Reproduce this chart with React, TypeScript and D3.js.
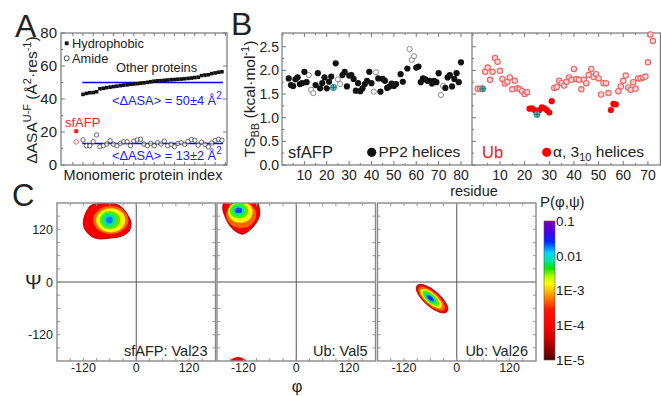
import React from 'react';
import * as d3 from 'd3';

const FONT = '"Liberation Sans", Arial, Helvetica, sans-serif';

// ---------------- Panel A data ----------------
const otherHydrophobic = [42.8, 43.4, 43.8, 43.9, 44.4, 46.2, 46.5, 46.9, 47.2, 47.5, 47.8, 48.1, 48.4, 48.6, 48.9, 49.1, 49.3, 49.6, 49.8, 50.1, 50.5, 50.8, 51.0, 51.1, 51.3, 51.5, 51.7, 51.8, 52.0, 52.1, 52.3, 52.5, 52.7, 53.0, 53.2, 54.2, 54.5, 54.7, 55.4, 55.8, 56.2, 56.5];
const otherAmide = [15.2, 11.7, 11.7, 14.1, 18.2, 11.1, 11.7, 12.7, 14.7, 12.5, 11.7, 13.1, 14.1, 14.1, 11.7, 14.5, 15.2, 15.6, 12.7, 11.7, 13.1, 11.7, 13.5, 12.7, 14.5, 11.7, 12.5, 11.1, 13.1, 13.5, 12.5, 14.3, 15.4, 15.0, 12.0, 13.8, 12.5, 11.0, 13.3, 14.8, 15.6, 15.0];
const firstOtherIndex = 2;
const sfafpIndex = 0;
const sfafpHydrophobic = 20.5;
const sfafpAmide = 14;
const meanHydrophobic = 50;
const meanAmide = 13;
const meanLineSpan = [1.8, 43.3];
const aYTicks = [0, 20, 40, 60, 80];
const aYMinor = [10, 30, 50, 70];
const aXTicks = d3.range(-1, 45, 3);

// ---------------- Panel B data ----------------
// kind: 1 = PP2 helix (filled), 0 = other (open), 2 = highlighted (cyan)
const sfResidue = [3, 4, 5, 6, 7, 8, 9, 10, 11, 12, 13, 14, 15, 16, 17, 18, 19, 20, 21, 22, 23, 24, 25, 26, 27, 28, 29, 30, 31, 32, 33, 34, 35, 36, 37, 38, 39, 40, 41, 42, 43, 44, 45, 46, 47, 48, 49, 50, 51, 53, 54, 56, 57, 58, 59, 60, 61, 62, 63, 64, 65, 66, 67, 68, 69, 70, 71, 72, 73, 74, 75, 76, 77, 78, 79, 80];
const sfTS = [1.83, 1.69, 1.67, 1.81, 1.85, 1.71, 1.73, 1.97, 1.75, 1.90, 1.59, 1.52, 1.69, 1.94, 1.62, 1.73, 1.85, 1.62, 1.76, 1.87, 1.64, 2.15, 1.81, 1.71, 1.90, 1.97, 1.66, 1.89, 1.90, 1.82, 1.57, 1.73, 1.56, 1.62, 1.71, 1.78, 1.97, 1.73, 1.55, 1.96, 1.83, 1.55, 1.82, 1.78, 1.63, 1.66, 1.72, 1.67, 1.71, 1.92, 1.76, 2.04, 2.45, 2.22, 2.30, 2.06, 2.08, 1.75, 1.83, 1.81, 1.78, 1.78, 1.72, 1.78, 1.75, 1.94, 1.48, 1.67, 1.63, 1.85, 1.90, 1.66, 1.82, 1.94, 1.75, 2.17];
const sfKind = [1, 1, 1, 1, 1, 1, 1, 1, 1, 0, 0, 0, 1, 1, 1, 1, 1, 1, 1, 1, 2, 1, 0, 0, 1, 1, 1, 1, 1, 1, 1, 1, 1, 1, 1, 1, 1, 1, 0, 0, 1, 1, 1, 1, 1, 1, 1, 1, 1, 1, 1, 1, 0, 0, 0, 1, 1, 1, 1, 1, 1, 1, 1, 1, 1, 1, 0, 0, 1, 1, 1, 1, 1, 1, 1, 1];

// kind: 1 = alpha / 3-10 helix (filled), 0 = other (open), 2 = highlighted (cyan)
const ubResidue = d3.range(1, 73);
const ubTS = [1.61, 1.61, 1.61, 1.97, 2.06, 1.80, 1.97, 2.26, 2.18, 1.99, 1.82, 1.72, 1.76, 1.85, 1.60, 1.78, 1.62, 1.60, 1.56, 1.50, 1.54, 1.19, 1.20, 1.16, 1.07, 1.16, 1.22, 1.20, 1.16, 1.11, 1.35, 1.63, 1.65, 1.78, 1.73, 1.68, 1.76, 1.85, 1.80, 2.03, 1.82, 1.80, 1.60, 1.80, 1.73, 1.90, 2.03, 1.86, 1.92, 1.83, 1.49, 1.73, 1.73, 1.52, 1.16, 1.29, 1.28, 1.56, 1.66, 1.78, 1.89, 1.64, 1.59, 1.75, 1.61, 1.83, 1.83, 1.85, 1.87, 2.17, 2.76, 2.62];
const ubKind = [0, 0, 2, 0, 0, 0, 0, 0, 0, 0, 0, 0, 0, 0, 0, 0, 0, 0, 0, 0, 0, 1, 1, 1, 2, 1, 1, 1, 1, 1, 1, 0, 0, 0, 0, 0, 0, 0, 0, 0, 0, 0, 0, 0, 0, 0, 0, 0, 0, 0, 0, 0, 0, 0, 1, 1, 1, 0, 0, 0, 0, 0, 0, 0, 0, 0, 0, 0, 0, 0, 0, 0];
const bYTicks = [0, 0.5, 1.0, 1.5, 2.0, 2.5];
const sfXTicks = [10, 20, 30, 40, 50, 60, 70, 80];
const ubXTicks = [10, 20, 30, 40, 50, 60, 70];

// ---------------- Panel C data ----------------
const ramaTicks = [-120, 0, 120];
const ramaMinor = d3.range(-150, 180, 30);
const val23Outer = [[-104, 174], [-86, 179], [-56, 180], [-35, 172], [-22, 157], [-12, 136], [-16, 116], [-32, 105], [-58, 100], [-90, 99], [-109, 110], [-120, 129], [-117, 152], [-110, 166]];
const val23Levels = [
  { p: 5e-4, phi: -58, psi: 141, a: 40, b: 32, angle: 0 },
  { p: 1.5e-3, phi: -58, psi: 140.5, a: 33, b: 27.5, angle: 0 },
  { p: 3.5e-3, phi: -60, psi: 141, a: 23.5, b: 20.5, angle: 0 },
  { p: 7e-3, phi: -61, psi: 141, a: 15, b: 15, angle: 0 },
  { p: 1.8e-2, phi: -61, psi: 141, a: 7.5, b: 8, angle: 0 },
];
const val5Outer = [[-158, 190], [-167, 172], [-163, 152], [-152, 130], [-137, 115], [-122, 109], [-107, 117], [-92, 133], [-83, 153], [-85, 174], [-92, 190]];
const val5Levels = [
  { p: 8e-5, phi: -132, psi: -184, a: 19, b: 13, angle: 0 },
  { p: 5e-4, phi: -125, psi: 153, a: 34, b: 30, angle: 0 },
  { p: 1.5e-3, phi: -127, psi: 159, a: 28, b: 24, angle: 0 },
  { p: 3.5e-3, phi: -130, psi: 162, a: 21, b: 17, angle: 0 },
  { p: 7e-3, phi: -131, psi: 163, a: 14, b: 12, angle: 0 },
  { p: 2.2e-2, phi: -131, psi: 163, a: 8, b: 6.5, angle: 0 },
];
const val26Levels = [
  { p: 8e-5, phi: -56, psi: -38, a: 45, b: 18, angle: -41 },
  { p: 5e-4, phi: -57, psi: -38, a: 38, b: 15, angle: -41 },
  { p: 1.5e-3, phi: -58, psi: -37.5, a: 31, b: 12, angle: -41 },
  { p: 3.5e-3, phi: -59, psi: -37, a: 24, b: 9.5, angle: -41 },
  { p: 7e-3, phi: -60, psi: -37, a: 17, b: 7, angle: -41 },
  { p: 2.2e-2, phi: -60, psi: -37, a: 10.5, b: 4.5, angle: -41 },
  { p: 5e-2, phi: -60, psi: -37, a: 5, b: 2.3, angle: -41 },
];
const ramaPanels = [
  { label: 'sfAFP: Val23', outer: val23Outer, outerP: 8e-5, levels: val23Levels },
  { label: 'Ub: Val5', outer: val5Outer, outerP: 8e-5, levels: val5Levels },
  { label: 'Ub: Val26', outer: null, outerP: 8e-5, levels: val26Levels },
];
const cbTicks = [1e-5, 1e-4, 1e-3, 1e-2, 1e-1];
const cbLabels = ['1E-5', '1E-4', '1E-3', '0.01', '0.1'];
const cmapStops = [0, 0.07, 0.15, 0.25, 0.36, 0.43, 0.49, 0.55, 0.6, 0.66, 0.71, 0.77, 0.85, 0.92, 1];
const cmapColors = ['#500000', '#8f0000', '#d00000', '#ff0000', '#ff1400', '#ff6a00', '#ffb400', '#ffff00', '#b4ff00', '#10e000', '#00e89a', '#00d8ff', '#0028ff', '#4a00f0', '#7a00a8'];

const pToT = d3.scaleLog().domain([1e-5, 0.1]).range([0, 1]);
const cmap = d3.scaleLinear<string>().domain(cmapStops).range(cmapColors).interpolate(d3.interpolateRgb);
const colorOf = (p: number) => cmap(pToT(p));

const AX = '#777';

function PanelA() {
  const x = d3.scaleLinear().domain([-4.5, 44.5]).range([61, 227]);
  const y = d3.scaleLinear().domain([0, 80]).range([165, 33]);
  const [x0, x1] = x.range();
  const [y0, y1] = y.range();
  const idx = otherHydrophobic.map((_, i) => i + firstOtherIndex);
  const sq = 3.6;
  return (
    <g>
      <text x={15} y={36.5} fontSize={32} fill="#222">A</text>
      <rect x={x0} y={y1} width={x1 - x0} height={y0 - y1} fill="none" stroke={AX} strokeWidth={1.2} />
      {aYTicks.map((t) => (
        <g key={t}>
          <line x1={x0} x2={x0 + 4} y1={y(t)} y2={y(t)} stroke={AX} />
          <line x1={x1} x2={x1 - 4} y1={y(t)} y2={y(t)} stroke={AX} />
          <text x={x0 - 4} y={y(t)} dy="0.36em" textAnchor="end" fontSize={15} fill="#222">{t}</text>
        </g>
      ))}
      {aYMinor.map((t) => (
        <line key={t} x1={x0} x2={x0 + 2} y1={y(t)} y2={y(t)} stroke={AX} />
      ))}
      {aXTicks.map((t) => (
        <g key={t}>
          <line x1={x(t)} x2={x(t)} y1={y0} y2={y0 - 3} stroke={AX} />
          <line x1={x(t)} x2={x(t)} y1={y1} y2={y1 + 3} stroke={AX} />
        </g>
      ))}
      <text transform={`translate(37,100) rotate(-90)`} textAnchor="middle" fontSize={15.5} fill="#222">
        ΔASA<tspan dy={-6} fontSize={11}>U-F</tspan><tspan dy={6}> (Å</tspan><tspan dy={-6} fontSize={11}>2</tspan><tspan dy={6}>·res</tspan><tspan dy={-6} fontSize={11}>-1</tspan><tspan dy={6}>)</tspan>
      </text>
      <text x={(x0 + x1) / 2 - 1} y={180} textAnchor="middle" fontSize={14.5} fill="#222">Monomeric protein index</text>
      {/* mean lines */}
      <line x1={x(meanLineSpan[0])} x2={x(meanLineSpan[1])} y1={y(meanHydrophobic)} y2={y(meanHydrophobic)} stroke="#0000ff" strokeWidth={1.6} />
      <line x1={x(meanLineSpan[0])} x2={x(meanLineSpan[1])} y1={y(meanAmide)} y2={y(meanAmide)} stroke="#0000ff" strokeWidth={1.6} />
      {otherAmide.map((v, i) => (
        <circle key={'am' + i} cx={x(idx[i])} cy={y(v)} r={2.2} fill="#fff" fillOpacity={0.6} stroke="#444" strokeWidth={0.8} />
      ))}
      {otherHydrophobic.map((v, i) => (
        <rect key={'hy' + i} x={x(idx[i]) - sq / 2} y={y(v) - sq / 2} width={sq} height={sq} fill="#111" />
      ))}
      <rect x={x(sfafpIndex) - 2} y={y(sfafpHydrophobic) - 2} width={4} height={4} fill="#ff1a1a" />
      <circle cx={x(sfafpIndex)} cy={y(sfafpAmide)} r={2.3} fill="#fff" stroke="#ff5050" strokeWidth={0.9} />
      {/* legend */}
      <rect x={64.8} y={41.4} width={3.8} height={3.8} fill="#111" />
      <text x={72} y={47.5} fontSize={12.8} fill="#222">Hydrophobic</text>
      <circle cx={66.7} cy={58.3} r={2.5} fill="#fff" stroke="#333" strokeWidth={0.9} />
      <text x={72} y={63} fontSize={12.8} fill="#222">Amide</text>
      <text x={116} y={71.5} fontSize={12.8} fill="#222">Other proteins</text>
      <text x={112} y={105} fontSize={12.8} fill="#1a1aff">
        &lt;ΔASA&gt; = {meanHydrophobic}±4 Å<tspan dy={-6} fontSize={10}>2</tspan>
      </text>
      <text x={112} y={160} fontSize={12.8} fill="#1a1aff">
        &lt;ΔASA&gt; = {meanAmide}±2 Å<tspan dy={-6} fontSize={10}>2</tspan>
      </text>
      <text x={65} y={126.5} fontSize={13} fill="#ff1a1a">sfAFP</text>
    </g>
  );
}

function Cross({ cx, cy, r }: { cx: number; cy: number; r: number }) {
  return (
    <g>
      <circle cx={cx} cy={cy} r={r} fill="#3fc6c6" stroke="#5a6a6a" strokeWidth={0.8} />
      <line x1={cx - r} x2={cx + r} y1={cy} y2={cy} stroke="#3a4a4a" strokeWidth={0.7} />
      <line x1={cx} x2={cx} y1={cy - r} y2={cy + r} stroke="#3a4a4a" strokeWidth={0.7} />
    </g>
  );
}

function PanelB() {
  const xl = d3.scaleLinear().domain([0, 85]).range([282, 472.2]);
  const xr = d3.scaleLinear().domain([-1.34, 75.3]).range([472, 661]);
  const y = d3.scaleLinear().domain([0, 2.79]).range([165, 33]);
  const [y0, y1] = y.range();
  const L0 = xl.range()[0];
  const R0 = xr.range()[0];
  const R1 = xr.range()[1];
  const yMinor = d3.range(0.25, 2.76, 0.5);
  const fmt = d3.format('.1f');
  return (
    <g>
      <text x={231} y={35} fontSize={32} fill="#222">B</text>
      <rect x={L0} y={y1} width={R1 - 0.6 - L0} height={y0 - y1} fill="none" stroke={AX} strokeWidth={1.2} />
      <line x1={R0} x2={R0} y1={y1} y2={y0} stroke={AX} strokeWidth={1.2} />
      {bYTicks.map((t) => (
        <g key={t}>
          <line x1={L0} x2={L0 + 4} y1={y(t)} y2={y(t)} stroke={AX} />
          <line x1={R0} x2={R0 + 4} y1={y(t)} y2={y(t)} stroke={AX} />
          <text x={L0 - 3} y={y(t)} dy="0.36em" textAnchor="end" fontSize={14} fill="#222">{fmt(t)}</text>
        </g>
      ))}
      {yMinor.map((t) => (
        <g key={t}>
          <line x1={L0} x2={L0 + 2} y1={y(t)} y2={y(t)} stroke={AX} />
          <line x1={R0} x2={R0 + 2} y1={y(t)} y2={y(t)} stroke={AX} />
        </g>
      ))}
      {d3.range(5, 85, 5).map((t) => (
        <g key={'l' + t}>
          <line x1={xl(t)} x2={xl(t)} y1={y0} y2={y0 - (t % 10 === 0 ? 4 : 2)} stroke={AX} />
          <line x1={xl(t)} x2={xl(t)} y1={y1} y2={y1 + (t % 10 === 0 ? 4 : 2)} stroke={AX} />
        </g>
      ))}
      {d3.range(5, 75, 5).map((t) => (
        <g key={'r' + t}>
          <line x1={xr(t)} x2={xr(t)} y1={y0} y2={y0 - (t % 10 === 0 ? 4 : 2)} stroke={AX} />
          <line x1={xr(t)} x2={xr(t)} y1={y1} y2={y1 + (t % 10 === 0 ? 4 : 2)} stroke={AX} />
        </g>
      ))}
      {sfXTicks.map((t) => (
        <text key={'sl' + t} x={xl(t)} y={179.5} textAnchor="middle" fontSize={14} fill="#222">{t}</text>
      ))}
      {ubXTicks.map((t) => (
        <text key={'ul' + t} x={xr(t)} y={179.5} textAnchor="middle" fontSize={14} fill="#222">{t}</text>
      ))}
      <text x={474} y={196} textAnchor="middle" fontSize={14.5} fill="#222">residue</text>
      <text transform={`translate(255,99) rotate(-90)`} textAnchor="middle" fontSize={15.5} fill="#222">
        TS<tspan dy={4} fontSize={11}>BB</tspan><tspan dy={-4}> (kcal·mol</tspan><tspan dy={-6} fontSize={11}>-1</tspan><tspan dy={6}>)</tspan>
      </text>
      {/* sfAFP points */}
      {sfResidue.map((r, i) =>
        sfKind[i] === 0 ? (
          <circle key={'so' + i} cx={xl(r)} cy={y(sfTS[i])} r={2.6} fill="#fff" stroke="#8a8a8a" strokeWidth={1} />
        ) : null
      )}
      {sfResidue.map((r, i) =>
        sfKind[i] === 1 ? <circle key={'sf' + i} cx={xl(r)} cy={y(sfTS[i])} r={3.1} fill="#111" /> : null
      )}
      {sfResidue.map((r, i) => (sfKind[i] === 2 ? <Cross key={'sc' + i} cx={xl(r)} cy={y(sfTS[i])} r={3.1} /> : null))}
      {/* Ub points */}
      {ubResidue.map((r, i) =>
        ubKind[i] === 0 ? (
          <circle key={'uo' + i} cx={xr(r)} cy={y(ubTS[i])} r={2.7} fill="#ffd6d6" stroke="#f06060" strokeWidth={1.1} />
        ) : null
      )}
      {ubResidue.map((r, i) =>
        ubKind[i] === 1 ? <circle key={'uf' + i} cx={xr(r)} cy={y(ubTS[i])} r={3.1} fill="#ff0000" /> : null
      )}
      {ubResidue.map((r, i) => (ubKind[i] === 2 ? <Cross key={'uc' + i} cx={xr(r)} cy={y(ubTS[i])} r={3.1} /> : null))}
      {/* legends */}
      <text x={288} y={158} fontSize={16.5} fill="#222">sfAFP</text>
      <circle cx={371.7} cy={152.3} r={4.6} fill="#111" />
      <text x={378.5} y={157} fontSize={15.5} fill="#222">PP2 helices</text>
      <text x={482} y={158} fontSize={16.5} fill="#ff1010">Ub</text>
      <circle cx={546.7} cy={152.3} r={4.6} fill="#ff0000" />
      <text x={553} y={157} fontSize={15.5} fill="#222">
        α, 3<tspan dy={4} fontSize={11}>10</tspan><tspan dy={-4}> helices</tspan>
      </text>
    </g>
  );
}

function RamaPlot({ left, panel, index, showY }: { left: number; panel: any; index: number; showY: boolean }) {
  const W = 158.5;
  const x = d3.scaleLinear().domain([-180, 180]).range([left, left + W]);
  const y = d3.scaleLinear().domain([-180, 180]).range([361, 203]);
  const [y0, y1] = y.range();
  const line = d3
    .line<number[]>()
    .x((d) => x(d[0]))
    .y((d) => y(d[1]))
    .curve(d3.curveCatmullRomClosed);
  const clipId = 'rclip' + index;
  return (
    <g>
      <defs>
        <clipPath id={clipId}>
          <rect x={left} y={y1} width={W} height={y0 - y1} />
        </clipPath>
      </defs>
      <g clipPath={`url(#${clipId})`}>
        {panel.outer && (
          <path d={line(panel.outer) || ''} fill={colorOf(panel.outerP)} stroke={colorOf(2.5e-5)} strokeWidth={0.9} />
        )}
        {panel.levels.map((l: any, i: number) => (
          <ellipse
            key={i}
            cx={x(l.phi)}
            cy={y(l.psi)}
            rx={x(l.a) - x(0)}
            ry={y(0) - y(l.b)}
            transform={`rotate(${-l.angle} ${x(l.phi)} ${y(l.psi)})`}
            fill={colorOf(l.p)}
            stroke={i === 0 && !panel.outer ? colorOf(3e-5) : 'none'}
            strokeWidth={0.8}
          />
        ))}
      </g>
      <line x1={x(0)} x2={x(0)} y1={y1} y2={y0} stroke="#555" strokeWidth={1} />
      <line x1={left} x2={left + W} y1={y(0)} y2={y(0)} stroke="#555" strokeWidth={1} />
      {ramaMinor.map((t) => (
        <g key={t}>
          <line x1={left} x2={left + 3} y1={y(t)} y2={y(t)} stroke="#999" />
          <line x1={left + W} x2={left + W - 3} y1={y(t)} y2={y(t)} stroke="#999" />
          <line x1={x(t)} x2={x(t)} y1={y0} y2={y0 - 3} stroke="#999" />
          <line x1={x(t)} x2={x(t)} y1={y1} y2={y1 + 3} stroke="#999" />
        </g>
      ))}
      <rect x={left} y={y1} width={W} height={y0 - y1} fill="none" stroke="#8a8a8a" strokeWidth={1.4} />
      {ramaTicks.map((t) => (
        <text key={'x' + t} x={x(t)} y={372} textAnchor="middle" fontSize={12.5} fill="#222">{t}</text>
      ))}
      {showY &&
        ramaTicks.map((t) => (
          <text key={'y' + t} x={left - 4} y={y(t)} dy="0.36em" textAnchor="end" fontSize={12.5} fill="#222">{t}</text>
        ))}
      <text x={left + W - 8} y={356} textAnchor="end" fontSize={14.5} fill="#222">{panel.label}</text>
    </g>
  );
}

function PanelC() {
  const lefts = [57, 217, 377.5];
  const cb = d3.scaleLog().domain([1e-5, 0.1]).range([360, 221]);
  const [cb0, cb1] = cb.range();
  return (
    <g>
      <text x={12} y={205.5} fontSize={31} fill="#222">C</text>
      {ramaPanels.map((p, i) => (
        <RamaPlot key={i} left={lefts[i]} panel={p} index={i} showY={i === 0} />
      ))}
      <text x={25} y={289} fontSize={20} fill="#222">Ψ</text>
      <text x={297} y={392} textAnchor="middle" fontSize={16.5} fill="#222">φ</text>
      <defs>
        <linearGradient id="cbgrad" x1="0" y1="1" x2="0" y2="0">
          {cmapStops.map((s, i) => (
            <stop key={i} offset={s} stopColor={cmapColors[i]} />
          ))}
        </linearGradient>
      </defs>
      <rect x={544} y={cb1} width={11} height={cb0 - cb1} fill="url(#cbgrad)" stroke="#555" strokeWidth={0.6} />
      {cbTicks.map((t, i) => (
        <text key={t} x={556} y={cb(t)} dy="0.36em" fontSize={13.5} fill="#222">{cbLabels[i]}</text>
      ))}
      <text x={540} y={207} fontSize={15} fill="#222">P(φ,ψ)</text>
    </g>
  );
}

export default function App() {
  return (
    <svg
      width={661}
      height={396}
      viewBox="0 0 661 396"
      style={{ position: 'absolute', left: 0, top: 0, background: '#fff' }}
      fontFamily={FONT}
    >
      <rect width={661} height={396} fill="#fff" />
      <PanelA />
      <PanelB />
      <PanelC />
    </svg>
  );
}
